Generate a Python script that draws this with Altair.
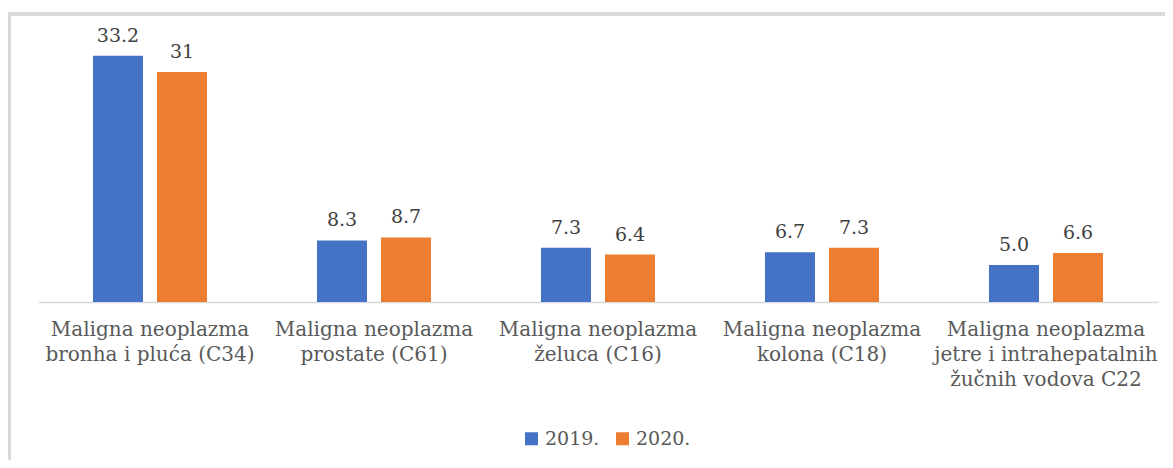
import altair as alt
import pandas as pd

categories = [
    "Maligna neoplazma|bronha i pluća (C34)",
    "Maligna neoplazma|prostate (C61)",
    "Maligna neoplazma|želuca (C16)",
    "Maligna neoplazma|kolona (C18)",
    "Maligna neoplazma|jetre i intrahepatalnih|žučnih vodova C22",
]
years = ["2019.", "2020."]
values_2019 = [33.2, 8.3, 7.3, 6.7, 5.0]
values_2020 = [31.0, 8.7, 6.4, 7.3, 6.6]
labels_2019 = ["33.2", "8.3", "7.3", "6.7", "5.0"]
labels_2020 = ["31", "8.7", "6.4", "7.3", "6.6"]
colors = ["#4472C4", "#ED7D31"]

rows = []
for c, v, l in zip(categories, values_2019, labels_2019):
    rows.append({"cat": c, "year": years[0], "value": v, "label": l})
for c, v, l in zip(categories, values_2020, labels_2020):
    rows.append({"cat": c, "year": years[1], "value": v, "label": l})
df = pd.DataFrame(rows)

SERIF = "DejaVu Serif"

x = alt.X(
    "cat:N",
    sort=categories,
    title=None,
    scale=alt.Scale(paddingInner=0, paddingOuter=0),
    axis=alt.Axis(
        labelExpr="split(datum.label, '|')",
        labelAngle=0,
        labelFontSize=20,
        labelColor="#595959",
        labelLineHeight=25,
        labelBaseline="top",
        labelPadding=17,
        ticks=False,
        domainColor="#d9d9d9",
        domainWidth=1.5,
        grid=False,
        labelLimit=400,
    ),
)
xo = alt.XOffset(
    "year:N",
    sort=years,
    scale=alt.Scale(paddingInner=0.21875, paddingOuter=0.859),
)
y = alt.Y("value:Q", scale=alt.Scale(domain=[0, 36], nice=False), axis=None)

base = alt.Chart(df)

bars = base.mark_bar().encode(
    x=x,
    xOffset=xo,
    y=y,
    color=alt.Color(
        "year:N",
        sort=years,
        scale=alt.Scale(domain=years, range=colors),
        legend=alt.Legend(
            title=None,
            orient="none",
            direction="horizontal",
            legendX=484,
            legendY=394,
            symbolType="square",
            symbolSize=169,
            symbolStrokeWidth=0,
            labelFontSize=19,
            labelColor="#595959",
            columnPadding=13,
            symbolOffset=0,
            labelOffset=4,
            padding=0,
        ),
    ),
)

text = base.mark_text(
    fontSize=19, color="#404040", baseline="bottom", dy=-10
).encode(x=x, xOffset=xo, y=y, text="label:N")

frame_left = base.mark_rule(color="#d9d9d9", strokeWidth=2.5).encode(
    x=alt.value(-28.5), y=alt.value(-21), y2=alt.value(600)
)
frame_top = base.mark_rule(color="#d9d9d9", strokeWidth=2.5).encode(
    x=alt.value(-29.5), x2=alt.value(1300), y=alt.value(-21)
)

chart = (
    alt.layer(frame_left, frame_top, bars, text)
    .properties(
        width=1120,
        height=267,
        autosize=alt.AutoSizeParams(type="none"),
        padding={"left": 30, "top": 27, "right": 7, "bottom": 158},
    )
    .configure(background="white", font=SERIF)
    .configure_view(strokeWidth=0)
)

chart.save("out.html", embed_options={"renderer": "svg", "actions": False})
